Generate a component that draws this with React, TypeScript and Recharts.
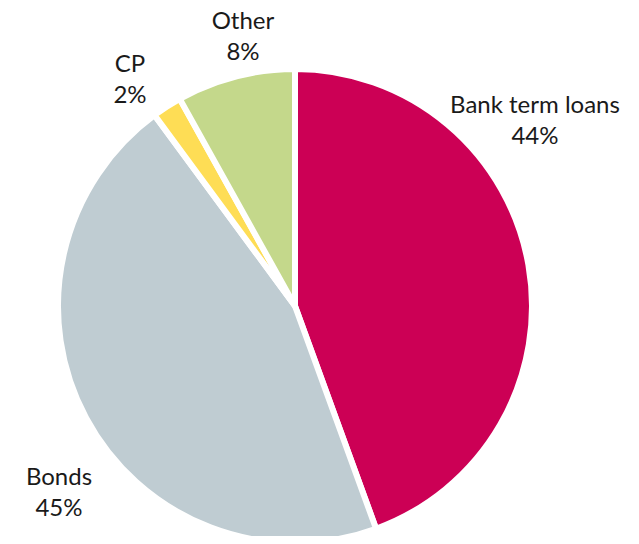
import { PieChart, Pie, Cell } from "recharts";

// Funding mix, percent of total
const NAMES = ["Bank term loans", "Bonds", "CP", "Other"];
const SHARES = [44, 45, 2, 8];
const COLORS = ["#cc0055", "#bfccd2", "#fedd55", "#c4d88b"];

// label anchor offsets from the pie centre (text baseline of first line)
const LABEL_OFFSETS: Record<string, { dx: number; dy: number }> = {
  "Bank term loans": { dx: 240, dy: -193 },
  Bonds: { dx: -236, dy: 179 },
  CP: { dx: -165, dy: -234 },
  Other: { dx: -52, dy: -277 },
};

const data = NAMES.map((name, i) => ({ name, value: SHARES[i] }));

const FONT = "Lato, 'Open Sans', sans-serif";

function renderLabel(props: any) {
  const { cx, cy, name, value } = props;
  const off = LABEL_OFFSETS[name];
  if (!off) return null;
  const x = cx + off.dx;
  const y = cy + off.dy;
  return (
    <text
      x={x}
      y={y}
      textAnchor="middle"
      fill="#1a1a1a"
      fontFamily={FONT}
      fontSize={24}
    >
      <tspan x={x}>{name}</tspan>
      <tspan x={x} dy={31}>
        {value}%
      </tspan>
    </text>
  );
}

export default function App() {
  // pull the chart over the default body margin so it fills the page
  return (
    <div style={{ margin: -8, width: 639, height: 544 }}>
      <PieChart
        width={639}
        height={544}
        margin={{ top: 0, right: 0, bottom: 0, left: 0 }}
      >
        <Pie
          data={data}
          dataKey="value"
          nameKey="name"
          cx={295}
          cy={306}
          outerRadius={237}
          startAngle={90}
          endAngle={-270}
          stroke="#ffffff"
          strokeWidth={6}
          label={renderLabel}
          labelLine={false}
          isAnimationActive={false}
        >
          {data.map((_, i) => (
            <Cell key={i} fill={COLORS[i]} />
          ))}
        </Pie>
      </PieChart>
    </div>
  );
}
